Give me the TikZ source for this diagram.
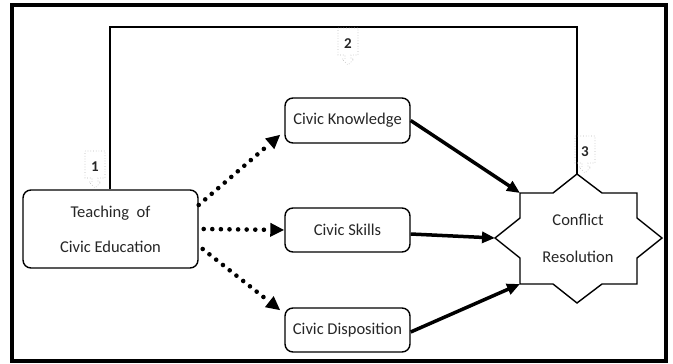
\documentclass[tikz,border=0pt]{standalone}
\usepackage{fontspec}
\setmainfont{Carlito}
\usetikzlibrary{arrows.meta,calc}
\begin{document}
\begin{tikzpicture}[x=1pt,y=-1pt,
  box/.style={draw=black, line width=1.4pt, rounded corners=8pt, text=black!85,
    font=\fontsize{16.5}{35}\selectfont, align=center, inner sep=0pt},
  startext/.style={text=black!85, font=\fontsize{16.5}{37}\selectfont, align=center, inner sep=0pt},
  dotarr/.style={line width=4.6pt, dash pattern=on 0pt off 8.6pt, line cap=round,
    -{Triangle[length=14pt,width=13pt]}},
  solidarr/.style={line width=3.5pt, -{Triangle[length=13pt,width=11pt]}},
  loopline/.style={line width=1.2pt},
  calloutline/.style={draw=gray!55, dotted, line width=0.7pt},
  lab/.style={text=black!85, font=\fontsize{15}{15}\selectfont\bfseries, inner sep=0pt},
  pics/callout/.style={code={
    \draw[calloutline] (0,0) -- (20,0) -- (20,27) -- (13,27) -- (13,31) -- (16,31)
      -- (10,37) -- (4,31) -- (7,31) -- (7,27) -- (0,27) -- cycle;
    \node[lab] (-t) at (10,16) {#1};
  }}
]
\useasboundingbox (0,0) rectangle (673,364);
\draw[line width=4pt] (12,5) rectangle (666,361);

% boxes
\node[box, minimum width=175pt, minimum height=78pt] (teach) at (110.5,229) {Teaching~~of\\Civic Education};
\node[box, minimum width=125pt, minimum height=45pt] (know) at (347.5,120.5) {Civic Knowledge};
\node[box, minimum width=125pt, minimum height=44pt] (skills) at (347.5,230) {Civic Skills};
\node[box, minimum width=125pt, minimum height=44pt] (disp) at (347.5,330) {Civic Disposition};

% star
\coordinate (sT) at (577,174);
\coordinate (sTR) at (637,193);
\coordinate (sR) at (662,238);
\coordinate (sBR) at (637,284);
\coordinate (sB) at (577,303);
\coordinate (sBL) at (520,284);
\coordinate (sL) at (495,238);
\coordinate (sTL) at (520,193);
\draw[line width=1.4pt, line join=miter]
  (sT) -- (602,193) -- (sTR) -- (637,218) -- (sR) -- (637,258) -- (sBR) -- (602,284)
  -- (sB) -- (553,284) -- (sBL) -- (520,258) -- (sL) -- (520,218) -- (sTL) -- (553,193) -- cycle;
\node[startext] (star) at (578,238.5) {Conflict\\Resolution};

% loop line
\coordinate (lx) at (110,0);
\coordinate (ltop) at (577,27);
\draw[loopline] (teach.north -| lx) |- (ltop) -- (sT);

% callouts
\pic (c1) at (85,151) {callout=1};
\pic (c2) at (338,28) {callout=2};
\pic (c3) at (575,136) {callout=3};

% dotted arrows
\draw[dotarr] ([yshift=24pt]teach.east) -- ([xshift=-4pt,yshift=9pt]know.south west);
\draw[dotarr] ([xshift=5pt]teach.east) -- (skills.west);
\draw[dotarr] ([xshift=4pt,yshift=-20pt]teach.east) -- ([xshift=-4pt,yshift=-3pt]disp.north west);

% solid arrows
\draw[solidarr] (know.east) -- (sTL);
\draw[solidarr] ([yshift=-4pt]skills.east) -- (sL);
\draw[solidarr] ([yshift=-2pt]disp.east) -- (sBL);
\end{tikzpicture}
\end{document}
